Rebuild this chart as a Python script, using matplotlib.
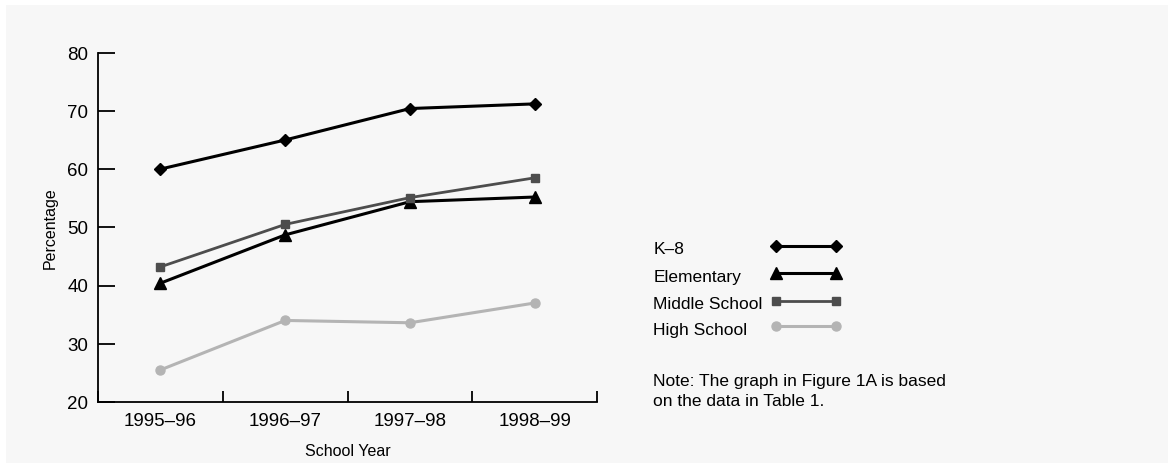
import matplotlib
matplotlib.use("Agg")
import matplotlib.pyplot as plt
from matplotlib.patches import Rectangle
from matplotlib.lines import Line2D

plt.rcParams['font.family'] = ['Liberation Sans', 'DejaVu Sans']

# data
years = ["1995\u201396", "1996\u201397", "1997\u201398", "1998\u201399"]
k8 = [60.0, 65.0, 70.4, 71.2]
elementary = [40.4, 48.7, 54.4, 55.2]
middle = [43.2, 50.5, 55.1, 58.5]
high = [25.5, 34.0, 33.6, 37.0]

series_names = ["K\u20138", "Elementary", "Middle School", "High School"]
series_values = [k8, elementary, middle, high]
series_style = [
    dict(color="black", marker="D", ms=6, lw=2.2),
    dict(color="black", marker="^", ms=8.5, lw=2.2),
    dict(color="#4d4d4d", marker="s", ms=6, lw=2.0),
    dict(color="#b4b4b4", marker="o", ms=6.5, lw=2.2),
]

W, H = 1168, 463
# a hair over the pixel size so the canvas is not truncated to 1167x462
fig = plt.figure(figsize=((W + 0.4) / 100, (H + 0.4) / 100), dpi=100, facecolor="#f7f7f7")
# thin white strip along the top and left edges
fig.patches.append(Rectangle((0, 1 - 5 / H), 1, 5 / H, transform=fig.transFigure,
                             facecolor="white", edgecolor="none", zorder=-10))
fig.patches.append(Rectangle((0, 0), 6 / W, 1, transform=fig.transFigure,
                             facecolor="white", edgecolor="none", zorder=-10))

ax = fig.add_axes([98 / W, 1 - 402 / H, (597 - 98) / W, (402 - 53) / H])
ax.set_facecolor("none")

xpos = [i + 0.5 for i in range(len(years))]
for vals, st in zip(series_values, series_style):
    ax.plot(xpos, vals, color=st["color"], lw=st["lw"], marker=st["marker"],
            ms=st["ms"], mec=st["color"], mfc=st["color"], clip_on=False)

ax.set_xlim(0, len(years))
ax.set_ylim(20, 80)
ax.spines["top"].set_visible(False)
ax.spines["right"].set_visible(False)
for s in ("left", "bottom"):
    ax.spines[s].set_linewidth(1.3)

ax.set_xticks(range(len(years) + 1))
ax.set_xticklabels([])
ax.set_xticks(xpos, minor=True)
ax.set_xticklabels(years, minor=True, fontsize=13.5)
ax.tick_params(axis="x", which="major", direction="in", length=8, width=1.3)
ax.tick_params(axis="x", which="minor", length=0, pad=8)
ax.set_yticks(range(20, 81, 10))
ax.tick_params(axis="y", direction="in", length=12, width=1.3, labelsize=13.5, pad=7)

ax.set_xlabel("School Year", fontsize=11.5, labelpad=10)
ax.set_ylabel("Percentage", fontsize=11.5, labelpad=7)

# legend on the right, text column then line swatch
row_y = [245.7, 273.3, 300.7, 326.0]
for name, st, y in zip(series_names, series_style, row_y):
    fy = 1 - y / H
    fig.text(653 / W, 1 - (y + 8.5) / H, name, fontsize=12.5, va="baseline", ha="left")
    fig.add_artist(Line2D([776 / W, 836 / W], [fy, fy], transform=fig.transFigure,
                          color=st["color"], lw=st["lw"], marker=st["marker"],
                          ms=st["ms"], mec=st["color"], mfc=st["color"]))

fig.text(653 / W, 1 - 405.7 / H, "Note: The graph in Figure 1A is based\non the data in Table 1.",
         fontsize=12.5, va="baseline", ha="left", linespacing=1.4)

fig.savefig("out.png", dpi=100, facecolor=fig.get_facecolor())
